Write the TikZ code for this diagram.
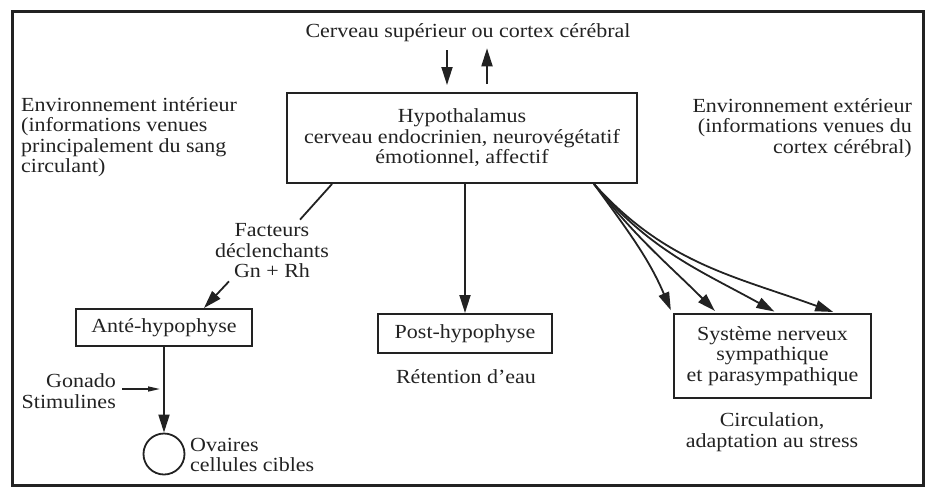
\documentclass[tikz,border=0pt]{standalone}
\usepackage{fontspec}
\setmainfont{Liberation Serif}[FakeStretch=1.1]
\usetikzlibrary{arrows.meta}
\definecolor{encre}{HTML}{222222}

\begin{document}
\begin{tikzpicture}[x=1pt, y=-1pt,
    every node/.style={text=encre, inner sep=0pt, font=\fontsize{20}{20.5}\selectfont},
    boite/.style={draw=encre, line width=2pt, rectangle},
    trait/.style={draw=encre, line width=1.8pt},
    fleche/.style={trait, -{Triangle[length=18pt, width=11pt]}},
    petite/.style={draw=encre, line width=1.4pt, -{Triangle[length=12pt, width=5pt]}}]
    \useasboundingbox (0,0) rectangle (931,488);

    % Cadre
    \draw[encre, line width=3pt] (12,11) rectangle (923,485);

    % Cortex et hypothalamus
    \node (cortex) at (468,33) {Cerveau supérieur ou cortex cérébral};
    \node[boite, minimum width=350pt, minimum height=90pt, align=center] (hypo) at (462,138)
        {Hypothalamus\\ cerveau endocrinien, neurovégétatif\\ émotionnel, affectif};
    \draw[fleche, shorten <=8pt, shorten >=7pt] ([xshift=-21pt]cortex.south) -- ([xshift=-15pt]hypo.north);
    \draw[fleche, shorten <=8pt, shorten >=6pt] ([xshift=25pt]hypo.north) -- ([xshift=19pt]cortex.south);

    % Environnements
    \node[anchor=west, align=left] (envint) at (21,137)
        {Environnement intérieur\\ (informations venues\\ principalement du sang\\ circulant)};
    \node[anchor=east, align=right] (envext) at (912,128)
        {Environnement extérieur\\ (informations venues du\\ cortex cérébral)};

    % Branche gauche : ante-hypophyse
    \node[align=center] (facteurs) at (272,251) {Facteurs\\ déclenchants\\ Gn + Rh};
    \draw[trait] ([xshift=-130pt]hypo.south) -- ([xshift=28pt, yshift=4pt]facteurs.north);
    \node[boite, minimum width=176pt, minimum height=37pt] (ante) at (164,327.5) {Anté-hypophyse};
    \draw[fleche] ([xshift=-43pt, yshift=-3pt]facteurs.south) -- ([xshift=40pt]ante.north);
    \node[draw=encre, circle, line width=1.8pt, minimum size=41pt] (ovaire) at (164,454) {};
    \draw[fleche] (ante) -- (ovaire);
    \node[anchor=east, align=right] (gonado) at (116,391) {Gonado\\ Stimulines};
    \draw[petite, shorten >=4pt] ([xshift=6pt, yshift=2pt]gonado.east) -- ([yshift=2pt]gonado.east -| ante.south);
    \node[anchor=west, align=left] (ovtxt) at (190,455) {Ovaires\\ cellules cibles};

    % Branche centrale : post-hypophyse
    \node[boite, minimum width=174pt, minimum height=39pt] (post) at (465,333.5) {Post-hypophyse};
    \draw[fleche] (hypo.south -| post.north) -- (post.north);
    \node (retention) at (466,377) {Rétention d’eau};

    % Branche droite : systeme nerveux
    \node[boite, minimum width=197pt, minimum height=84pt, align=center] (sns) at (772.5,356)
        {Système nerveux\\ sympathique\\ et parasympathique};
    \node[align=center] (circ) at (772,432) {Circulation,\\ adaptation au stress};
    \coordinate (depart) at ([xshift=-44pt]hypo.south east);
    \foreach \dx/\ang/\entree in {-1/-54/113, 44/-52/135, 104/-50/151, 163/-48/160}{
        \draw[fleche, shorten >=3pt] (depart) to[out=\ang, in=\entree] ([xshift=\dx pt]sns.north west);
    };
\end{tikzpicture}
\end{document}
